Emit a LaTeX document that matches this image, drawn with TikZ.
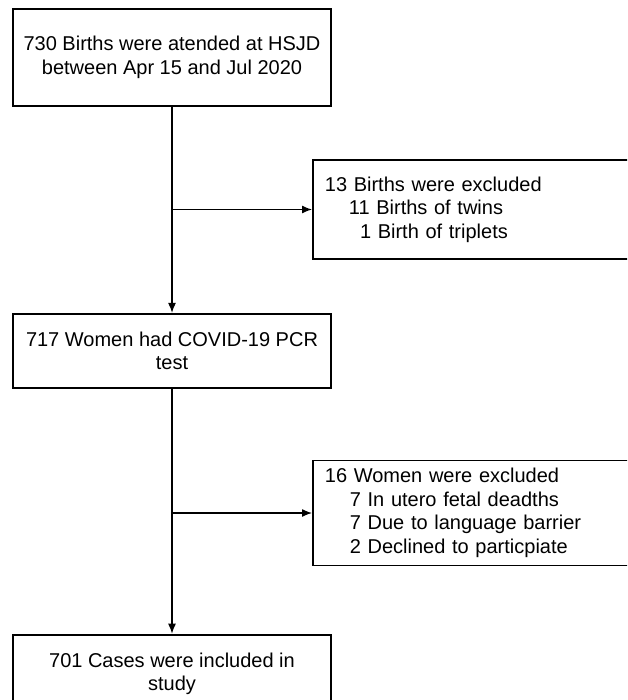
\documentclass[tikz,border=0pt]{standalone}
\usepackage{fontspec}
\setmainfont{Liberation Sans}
\usetikzlibrary{arrows.meta,positioning}

\begin{document}
\begin{tikzpicture}[x=1pt,y=-1pt,
  every node/.style={font=\fontsize{20}{23.5}\selectfont},
  mainbox/.style={draw,line width=1.8pt,align=center,minimum width=318pt,inner sep=0pt},
  exclbox/.style={draw,line width=1.8pt,align=left,anchor=west,inner xsep=12pt,text width=316pt},
  flow/.style={-{Latex[length=10pt,width=8pt]},line width=1.3pt}]
\useasboundingbox (0,0) rectangle (627,700);
\clip (0,0) rectangle (627,700);
\node[mainbox,minimum height=97pt] (births) at (172,57.5) {730 Births were atended at HSJD\\between Apr 15 and Jul 2020};
\node[mainbox,minimum height=74pt,below=206pt of births] (tested) {717 Women had COVID-19 PCR\\test};
\node[mainbox,minimum height=78pt,below=245pt of tested] (included) {701 Cases were included in\\study};
\node[exclbox,minimum height=99pt] (exclbirths) at (312,209.5) {13 Births were excluded\\
  \hspace*{24pt}11 Births of twins\\
  \hspace*{24pt}\phantom{1}1 Birth of triplets};
\node[exclbox,minimum height=105pt] (exclwomen) at (312,513) {16 Women were excluded\\
  \hspace*{25pt}7 In utero fetal deadths\\
  \hspace*{25pt}7 Due to language barrier\\
  \hspace*{25pt}2 Declined to particpiate};
\draw[flow] (births.south) -- (tested.north);
\draw[flow] (tested.south) -- (included.north);
\draw[flow] (births.south |- exclbirths.west) -- (exclbirths.west);
\draw[flow] (tested.south |- exclwomen.west) -- (exclwomen.west);
\end{tikzpicture}
\end{document}
